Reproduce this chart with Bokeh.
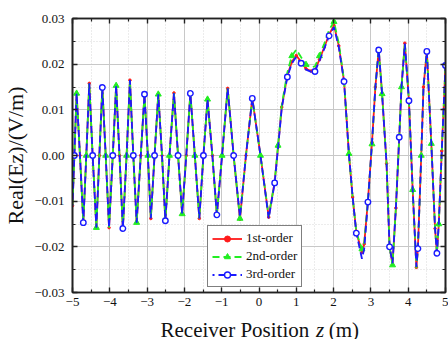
from bokeh.plotting import figure
from bokeh.layouts import column
from bokeh.models import (FixedTicker, CustomJSTickFormatter, LinearAxis,
                          Legend, LegendItem, Range1d)
from bokeh.core.properties import value
from bokeh.embed import file_html
from bokeh.resources import INLINE

# ---------------- data ----------------
z_pos = [-5.00, -4.95, -4.89, -4.80, -4.71, -4.63, -4.55, -4.46, -4.36, -4.28,
         -4.20, -4.11, -4.02, -3.92, -3.83, -3.74, -3.65, -3.55, -3.46, -3.37,
         -3.28, -3.17, -3.07, -2.98, -2.90, -2.80, -2.70, -2.60, -2.51, -2.40,
         -2.28, -2.17, -2.06, -1.95, -1.84, -1.72, -1.60, -1.49, -1.38, -1.25,
         -1.13, -0.99, -0.84, -0.68, -0.51, -0.35, -0.18, 0.04, 0.26, 0.42,
         0.51, 0.61, 0.76, 0.88, 1.00, 1.13, 1.26, 1.40, 1.50, 1.62,
         1.75, 1.88, 2.01, 2.14, 2.28, 2.41, 2.51, 2.61, 2.76, 2.82,
         2.92, 3.03, 3.12, 3.21, 3.30, 3.42, 3.50, 3.58, 3.67, 3.76,
         3.82, 3.91, 4.02, 4.12, 4.22, 4.26, 4.35, 4.41, 4.50, 4.62,
         4.72, 4.77, 4.82, 4.90, 5.00]

ez_1st = [-0.0110, 0.0, 0.0136, 0.0, -0.0147, 0.0, 0.0158, 0.0, -0.0158, 0.0,
          0.0149, 0.0, -0.0158, 0.0, 0.0153, 0.0, -0.0160, 0.0, 0.0165, 0.0,
          -0.0147, 0.0, 0.0134, 0.0, -0.0138, 0.0, 0.0134, 0.0, -0.0143, 0.0,
          0.0137, 0.0, -0.0128, 0.0, 0.0136, 0.0, -0.0138, 0.0, 0.0123, 0.0,
          -0.0130, 0.0, 0.0147, 0.0, -0.0140, 0.0, 0.0125, 0.0, -0.0135, -0.0058,
          0.0018, 0.0106, 0.0175, 0.0205, 0.0219, 0.0205, 0.0190, 0.0185, 0.0187, 0.0210,
          0.0237, 0.0265, 0.0285, 0.0240, 0.0163, 0.0004, -0.0091, -0.0168, -0.0212, -0.0194,
          -0.0100, 0.0029, 0.0150, 0.0232, 0.0135, -0.0018, -0.0200, -0.0238, -0.0115, 0.0040,
          0.0150, 0.0246, 0.0120, -0.0075, -0.0245, -0.0204, 0.0000, 0.0150, 0.0229, 0.0026,
          -0.0160, -0.0214, -0.0150, 0.0010, 0.0197]

ez_2nd = [-0.0110, 0.0, 0.0136, 0.0, -0.0147, 0.0, 0.0158, 0.0, -0.0158, 0.0,
          0.0149, 0.0, -0.0158, 0.0, 0.0153, 0.0, -0.0160, 0.0, 0.0165, 0.0,
          -0.0147, 0.0, 0.0134, 0.0, -0.0138, 0.0, 0.0134, 0.0, -0.0143, 0.0,
          0.0137, 0.0, -0.0128, 0.0, 0.0136, 0.0, -0.0138, 0.0, 0.0123, 0.0,
          -0.0130, 0.0, 0.0147, 0.0, -0.0138, 0.0, 0.0125, 0.0, -0.0133, -0.0058,
          0.0022, 0.0110, 0.0182, 0.0218, 0.0232, 0.0215, 0.0199, 0.0193, 0.0195, 0.0218,
          0.0245, 0.0275, 0.0293, 0.0245, 0.0165, 0.0004, -0.0091, -0.0168, -0.0205, -0.0192,
          -0.0100, 0.0025, 0.0150, 0.0234, 0.0135, -0.0018, -0.0200, -0.0240, -0.0115, 0.0040,
          0.0150, 0.0247, 0.0120, -0.0075, -0.0247, -0.0204, 0.0000, 0.0150, 0.0230, 0.0026,
          -0.0160, -0.0214, -0.0150, 0.0010, 0.0197]

ez_3rd = [-0.0110, 0.0, 0.0136, 0.0, -0.0147, 0.0, 0.0158, 0.0, -0.0158, 0.0,
          0.0149, 0.0, -0.0158, 0.0, 0.0153, 0.0, -0.0160, 0.0, 0.0165, 0.0,
          -0.0147, 0.0, 0.0134, 0.0, -0.0138, 0.0, 0.0134, 0.0, -0.0143, 0.0,
          0.0137, 0.0, -0.0128, 0.0, 0.0136, 0.0, -0.0138, 0.0, 0.0123, 0.0,
          -0.0130, 0.0, 0.0147, 0.0, -0.0135, 0.0, 0.0125, 0.0, -0.0138, -0.0060,
          0.0016, 0.0104, 0.0172, 0.0202, 0.0216, 0.0202, 0.0188, 0.0183, 0.0184, 0.0207,
          0.0234, 0.0262, 0.0281, 0.0237, 0.0162, 0.0004, -0.0091, -0.0170, -0.0226, -0.0205,
          -0.0102, 0.0029, 0.0150, 0.0231, 0.0135, -0.0018, -0.0200, -0.0236, -0.0115, 0.0040,
          0.0150, 0.0245, 0.0120, -0.0075, -0.0244, -0.0204, 0.0000, 0.0150, 0.0228, 0.0026,
          -0.0160, -0.0214, -0.0150, 0.0010, 0.0197]

series_names = ["1st-order", "2nd-order", "3rd-order"]
x_major = [-5, -4, -3, -2, -1, 0, 1, 2, 3, 4, 5]
x_minor = [-4.5, -3.5, -2.5, -1.5, -0.5, 0.5, 1.5, 2.5, 3.5, 4.5]
y_major = [-0.03, -0.02, -0.01, 0.0, 0.01, 0.02, 0.03]
y_minor = [-0.025, -0.015, -0.005, 0.005, 0.015, 0.025]
x_title_parts = ["Receiver Position", "z", "(m)"]
x_title_at = [-2.64, 1.53, 1.87]   # left edge of each title part, in axis units

RED = "#ff1a1a"
GREEN = "#22ee22"
BLUE = "#1a1aff"
FONT = "Liberation Serif"

p = figure(width=448, height=312, x_range=(-5, 5), y_range=(-0.03, 0.03),
           output_backend="svg", toolbar_location=None,
           min_border_left=69, min_border_right=3, min_border_top=18,
           min_border_bottom=20, background_fill_color="white")

xt = FixedTicker(ticks=x_major, minor_ticks=x_minor)
yt = FixedTicker(ticks=y_major, minor_ticks=y_minor)
xfmt = CustomJSTickFormatter(code="return (tick < 0 ? '\u2212' : '') + Math.abs(tick).toFixed(0);")
yfmt = CustomJSTickFormatter(code="return (tick < 0 ? '\u2212' : '') + Math.abs(tick).toFixed(2);")

def style_axis(ax, ticker, show_labels, standoff=6):
    ax.ticker = ticker
    ax.axis_line_color = "#222222"
    ax.axis_line_width = 1.6
    ax.major_tick_in = 5
    ax.major_tick_out = 0
    ax.minor_tick_in = 3
    ax.minor_tick_out = 0
    ax.major_tick_line_color = "#222222"
    ax.minor_tick_line_color = "#222222"
    ax.major_tick_line_width = 1.4
    ax.minor_tick_line_width = 1.2
    ax.major_label_text_font = FONT
    ax.major_label_text_color = "#111111"
    if show_labels:
        ax.major_label_text_font_size = "13px"
        ax.major_label_standoff = standoff
    else:
        ax.major_label_text_font_size = "0px"
        ax.major_label_standoff = 0

style_axis(p.xaxis[0], xt, True, 5)
p.xaxis[0].formatter = xfmt
style_axis(p.yaxis[0], yt, True, 8)
p.yaxis[0].formatter = yfmt
p.yaxis[0].axis_label = "Real(Ez)/(V/m)"
p.yaxis[0].axis_label_text_font = FONT
p.yaxis[0].axis_label_text_font_size = "22px"
p.yaxis[0].axis_label_text_font_style = "normal"
p.yaxis[0].axis_label_text_color = "#111111"
p.yaxis[0].axis_label_standoff = 3

top_ax = LinearAxis()
style_axis(top_ax, xt, False)
p.add_layout(top_ax, "above")
right_ax = LinearAxis()
style_axis(right_ax, yt, False)
p.add_layout(right_ax, "right")

p.outline_line_color = "#222222"
p.outline_line_width = 1.6

for g, t_ in ((p.xgrid[0], xt), (p.ygrid[0], yt)):
    g.ticker = t_
    g.grid_line_color = "#c8c8c8"
    g.grid_line_width = 1
    g.minor_grid_line_color = "#d8d8d8"
    g.minor_grid_line_dash = "1 2"
    g.minor_grid_line_width = 1

# ---------------- series ----------------
l1 = p.line(z_pos, ez_1st, line_color=RED, line_width=1.8)
s1 = p.scatter(z_pos, ez_1st, marker="circle", size=2.5, fill_color=RED, line_color=RED)

l2 = p.line(z_pos, ez_2nd, line_color=GREEN, line_width=1.8, line_dash="7 4")
s2 = p.scatter(z_pos[2::3], ez_2nd[2::3], marker="triangle", size=6,
               fill_color=GREEN, line_color=GREEN)

l3 = p.line(z_pos, ez_3rd, line_color=BLUE, line_width=1.8, line_dash="7 4",
            line_dash_offset=5)
s3 = p.scatter(z_pos[1::3], ez_3rd[1::3], marker="circle", size=5.5,
               fill_color="white", line_color=BLUE, line_width=1.4)

legend = Legend(items=[LegendItem(label=series_names[0], renderers=[l1, s1]),
                       LegendItem(label=series_names[1], renderers=[l2, s2]),
                       LegendItem(label=series_names[2], renderers=[l3, s3])],
                location=(135, 5))
legend.label_text_font = FONT
legend.label_text_font_size = "13px"
legend.label_text_color = "#111111"
legend.glyph_width = 30
legend.glyph_height = 15
legend.label_height = 15
legend.label_standoff = 4
legend.spacing = 2
legend.padding = 4
legend.margin = 0
legend.border_line_color = "black"
legend.border_line_width = 1.2
legend.background_fill_alpha = 1
p.add_layout(legend)

# ---------------- x-axis title strip (italic z) ----------------
t = figure(width=448, height=27, x_range=Range1d(-5, 5), y_range=Range1d(0, 27),
           output_backend="svg", toolbar_location=None,
           x_axis_type=None, y_axis_type=None,
           min_border_left=69, min_border_right=3, min_border_top=0,
           min_border_bottom=0)
t.outline_line_color = None
t.xgrid.visible = False
t.ygrid.visible = False
styles = ["normal", "italic", "normal"]
for part, xpos, st in zip(x_title_parts, x_title_at, styles):
    t.text(x=[xpos], y=[9.5], text=[part], text_font=value(FONT),
           text_font_size=value("21px"), text_font_style=st,
           text_baseline="alphabetic", text_align="left", text_color="#111111")

layout = column(p, t, spacing=0)
open("out.html", "w").write(file_html(layout, INLINE))
